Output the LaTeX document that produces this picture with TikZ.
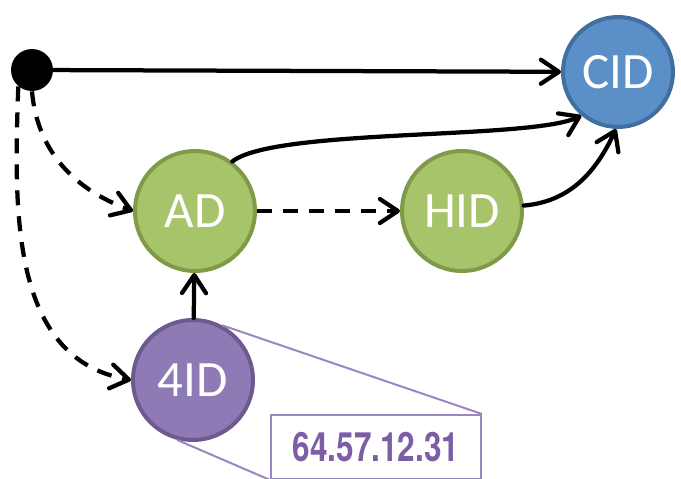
\documentclass[tikz,border=0pt]{standalone}
\usepackage{fontspec}
\setmainfont{Carlito}
\newfontfamily\addrfont{TeX Gyre Heros}
\usepackage{graphicx}
\usetikzlibrary{arrows.meta}
\definecolor{cidblue}{RGB}{91,143,199}
\definecolor{cidedge}{RGB}{65,112,160}
\definecolor{adgreen}{RGB}{168,196,106}
\definecolor{adedge}{RGB}{127,154,72}
\definecolor{idpurple}{RGB}{142,122,180}
\definecolor{idedge}{RGB}{110,90,143}
\definecolor{addrpurple}{RGB}{124,93,166}
\definecolor{addredge}{RGB}{155,134,193}

\begin{document}
\begin{tikzpicture}[x=0.02cm, y=-0.02cm,
  idnode/.style={circle, line width=0.08cm, minimum size=2.4cm, inner sep=0pt,
    text=white, font=\fontsize{29}{34}\selectfont},
  link/.style={line width=0.085cm, line cap=round,
    -{Straight Barb[round, length=0.36cm, width=0.48cm]}},
  dashlink/.style={link, line cap=butt, dash pattern=on 0.3cm off 0.22cm}]
  \useasboundingbox (0,0) rectangle (681,479);

  % nodes
  \node[circle, fill=black, minimum size=0.84cm, inner sep=0pt] (start) at (32,70) {};
  \node[idnode, minimum size=2.2cm, fill=cidblue, draw=cidedge] (cid) at (618,72) {CID};
  \node[idnode, fill=adgreen, draw=adedge] (ad) at (195,211) {AD};
  \node[idnode, fill=adgreen, draw=adedge] (hid) at (462,211) {HID};
  \node[idnode, fill=idpurple, draw=idedge] (ip4) at (193,380) {4ID};

  % address callout
  \node[draw=addredge, fill=white, line width=0.04cm, minimum width=4.2cm, minimum height=1.28cm,
    text=addrpurple, font=\addrfont\bfseries\fontsize{23}{26}\selectfont]
    (addr) at (376,447) {\scalebox{0.78}[1]{64.57.12.31}};
  \draw[addredge, line width=0.04cm] (ip4.62) -- (addr.north east);
  \draw[addredge, line width=0.04cm] (ip4.-105) -- (addr.south west);

  % links
  \draw[link] (start) -- (cid);
  \draw[dashlink] (start.-90) to[out=-85, in=160] (ad.west);
  \draw[dashlink] (start.-130) to[out=-92, in=170] (ip4.west);
  \draw[dashlink] (ad) -- (hid);
  \draw[link] (ip4) -- (ad);
  \draw[link] (ad.53) .. controls (275,128) and (530,140) .. (cid.-130);
  \draw[link] (hid.5) to[out=5, in=-115] (cid.-92);
\end{tikzpicture}
\end{document}
